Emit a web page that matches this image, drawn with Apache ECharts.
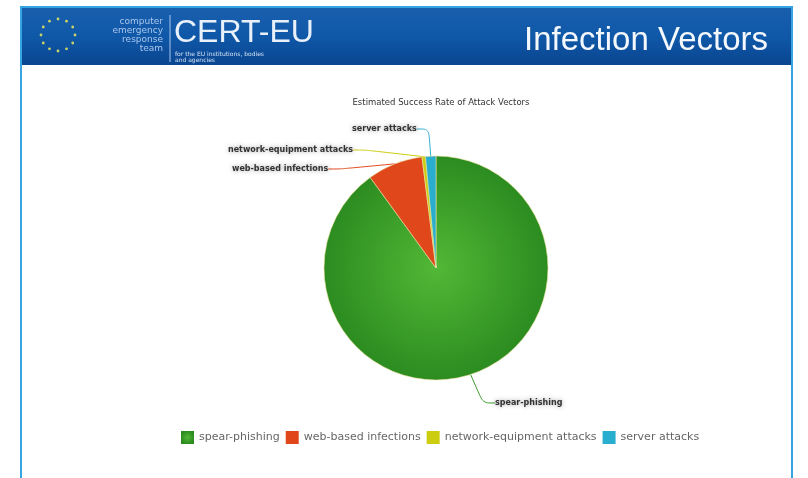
<!DOCTYPE html>
<html>
<head>
<meta charset="utf-8">
<script src="https://cdn.jsdelivr.net/npm/echarts@6/dist/echarts.min.js"></script>
<style>html,body{margin:0;padding:0;background:#fff}#c{width:808px;height:478px}</style>
</head>
<body>
<div id="c"></div>
<script>
var slideTitle = 'Infection Vectors';
var chartTitle = 'Estimated Success Rate of Attack Vectors';
var categories = ['spear-phishing', 'web-based infections', 'network-equipment attacks', 'server attacks'];
var values = [90.0, 8.0, 0.5, 1.5];
var colors = ['#3a9a2a', '#e0481c', '#cccc10', '#2aaed0'];

var chart = echarts.init(document.getElementById('c'));

var stars = [];
for (var i = 0; i < 12; i++) {
  var a = i / 12 * Math.PI * 2;
  stars.push({
    type: 'circle',
    shape: { cx: 58 + 17 * Math.cos(a), cy: 35 + 16 * Math.sin(a), r: 1.4 },
    style: { fill: '#c9d467' }
  });
}

var graphics = [
  { type: 'rect', shape: { x: 21, y: 7, width: 771, height: 480 }, style: { fill: '#fff', stroke: '#35a4e0', lineWidth: 2 }, z: -10 },
  { type: 'rect', shape: { x: 22, y: 8, width: 769, height: 57 },
    style: { fill: new echarts.graphic.LinearGradient(0, 0, 0, 1, [
      { offset: 0, color: '#1a5fae' }, { offset: 0.5, color: '#0f58a8' }, { offset: 1, color: '#0a4590' }]) }, z: -9 },
  { type: 'text', style: { text: 'computer', x: 163, y: 22, align: 'right', verticalAlign: 'middle', fill: '#a9c6ec', font: '9px "DejaVu Sans"' } },
  { type: 'text', style: { text: 'emergency', x: 163, y: 31, align: 'right', verticalAlign: 'middle', fill: '#a9c6ec', font: '9px "DejaVu Sans"' } },
  { type: 'text', style: { text: 'response', x: 163, y: 40, align: 'right', verticalAlign: 'middle', fill: '#a9c6ec', font: '9px "DejaVu Sans"' } },
  { type: 'text', style: { text: 'team', x: 163, y: 49, align: 'right', verticalAlign: 'middle', fill: '#a9c6ec', font: '9px "DejaVu Sans"' } },
  { type: 'line', shape: { x1: 170, y1: 15, x2: 170, y2: 62 }, style: { stroke: '#a9c6ec', lineWidth: 1 } },
  { type: 'text', style: { text: 'CERT-EU', x: 174, y: 33, verticalAlign: 'middle', fill: '#e8f0fa', font: '32px "Liberation Sans"' } },
  { type: 'text', style: { text: 'for the EU institutions, bodies', x: 175, y: 54, verticalAlign: 'middle', fill: '#d0e0f4', font: '6px "DejaVu Sans"' } },
  { type: 'text', style: { text: 'and agencies', x: 175, y: 60, verticalAlign: 'middle', fill: '#d0e0f4', font: '6px "DejaVu Sans"' } },
  { type: 'text', style: { text: slideTitle, x: 768, y: 41, align: 'right', verticalAlign: 'middle', fill: '#f4f8fc', font: '33px "Liberation Sans"' } }
].concat(stars);

chart.setOption({
  backgroundColor: '#fff',
  animation: false,
  title: {
    text: chartTitle, left: 436, top: 93, textAlign: 'center',
    textStyle: { fontSize: 8.5, fontWeight: 'normal', color: '#333', fontFamily: 'DejaVu Sans' }
  },
  legend: {
    data: categories, top: 426, left: 176, icon: 'rect',
    itemWidth: 13, itemHeight: 13, itemGap: 6,
    itemStyle: { borderWidth: 0 },
    textStyle: { fontSize: 11, color: '#666', fontFamily: 'DejaVu Sans' }
  },
  graphic: graphics,
  series: [{
    type: 'pie',
    center: [436, 268],
    radius: 112,
    startAngle: 90,
    clockwise: true,
    data: categories.map(function (c, i) {
      var col = colors[i];
      if (i === 0) {
        col = new echarts.graphic.RadialGradient(0.5, 0.5, 0.5, [
          { offset: 0, color: '#52b836' }, { offset: 1, color: '#2c8c20' }]);
      }
      return { name: c, value: values[i], itemStyle: { color: col }, labelLine: { lineStyle: { color: colors[i] } } };
    }),
    itemStyle: { borderColor: '#e8e0a0', borderWidth: 0.6 },
    label: {
      show: true, fontSize: 8, fontWeight: 'bold', color: '#333', fontFamily: 'DejaVu Sans',
      textShadowColor: 'rgba(0,0,0,0.35)', textShadowBlur: 4
    },
    labelLine: { show: true, length: 20, length2: 12, smooth: 0.3 },
    labelLayout: function (p) {
      var pos = [[495, 399], [232, 165], [228, 146], [352, 125]][p.dataIndex];
      return { x: pos[0], y: pos[1], align: 'left', verticalAlign: 'top' };
    }
  }]
});
</script>
</body>
</html>
